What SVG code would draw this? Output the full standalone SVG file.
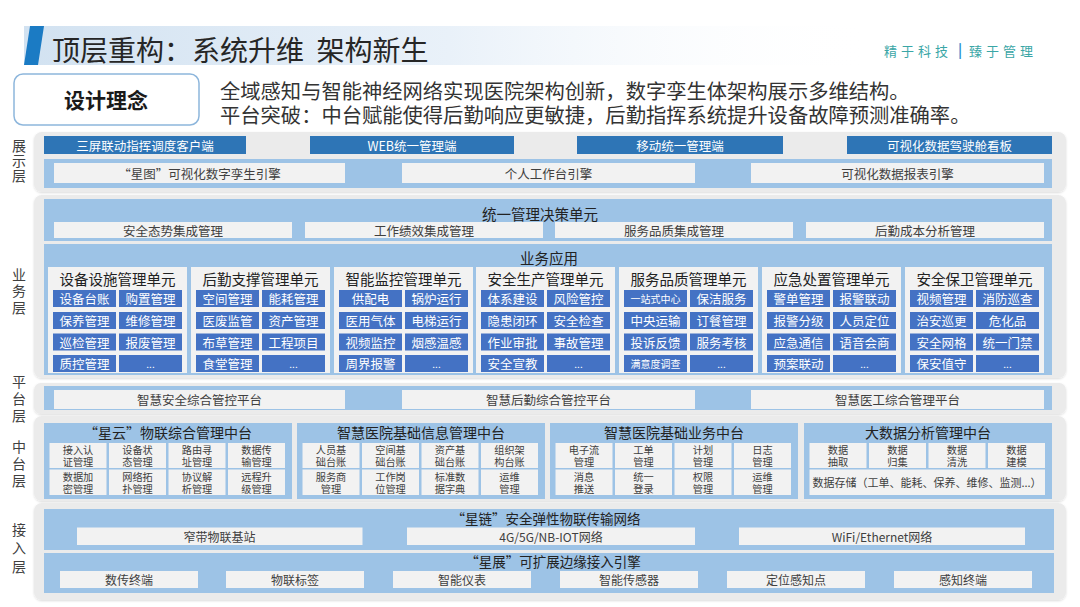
<svg xmlns="http://www.w3.org/2000/svg" width="1080" height="607" viewBox="0 0 1080 607">
<defs>
<linearGradient id="titleGrad" x1="0" x2="1" y1="0" y2="0">
<stop offset="0" stop-color="#d2e2f1"/>
<stop offset="0.5" stop-color="#e9f1f9"/>
<stop offset="1" stop-color="#ffffff" stop-opacity="0"/>
</linearGradient>
<linearGradient id="lineGrad" x1="0" x2="1" y1="0" y2="0">
<stop offset="0" stop-color="#d4e3f1" stop-opacity="0"/>
<stop offset="0.4" stop-color="#d4e3f1"/>
<stop offset="1" stop-color="#d4e3f1"/>
</linearGradient>
<filter id="sh" x="-2%" y="-5%" width="104%" height="115%">
<feDropShadow dx="0" dy="1" stdDeviation="1.2" flood-color="#000" flood-opacity="0.14"/>
</filter>
</defs>
<style>
text{font-family:"Noto Sans CJK SC","Noto Sans",sans-serif;dominant-baseline:central}
.c{fill:#ebebeb;filter:url(#sh)}
.b{fill:#9dc3e6}
.w{fill:#f2f2f2}
.d{fill:#2e75b6}
.k{fill:#4472c4}
.p{fill:#f2f2f2}
.lb{font-size:14px;fill:#404040;text-anchor:middle;writing-mode:vertical-rl}
.t{font-size:12.5px;fill:#404040;text-anchor:middle}
.ta{font-size:12px;fill:#404040;text-anchor:middle}
.tw{font-size:12.5px;fill:#ffffff;text-anchor:middle}
.ts{font-size:10px;fill:#ffffff;text-anchor:middle}
.h{font-size:14.5px;fill:#222222;text-anchor:middle}
.hm{font-size:14px;fill:#222222;text-anchor:middle}
.ha{font-size:13.5px;fill:#222222;text-anchor:middle}
.ct{font-size:10.2px;fill:#404040;text-anchor:middle}
</style>

<g id="header">
<rect x="24" y="26" width="850" height="39" fill="url(#titleGrad)"/>
<line x1="400" y1="51" x2="856" y2="51" stroke="url(#lineGrad)" stroke-width="1.5"/>
<polygon points="30,26 44,26 38,65 24,65" fill="#1b7bc4"/>
<text x="52" y="48.5" style="font-size:28px;fill:#262626">顶层重构：系统升维&#160;&#160;架构新生</text>
<text x="884" y="50" style="font-size:13px;fill:#3aa6a6;letter-spacing:4px">精于科技</text>
<text x="960" y="49" style="font-size:14px;fill:#2a8fd0;font-weight:bold;text-anchor:middle">|</text>
<text x="969" y="50" style="font-size:13px;fill:#3aa6a6;letter-spacing:4px">臻于管理</text>
</g>

<g id="concept">
<rect x="14" y="74" width="185" height="51" rx="9" fill="#ffffff" stroke="#8db6dc" stroke-width="1.5"/>
<text x="106" y="99" style="font-size:21px;font-weight:bold;fill:#1a1a1a;text-anchor:middle">设计理念</text>
<text style="font-size:20.3px;fill:#333333"><tspan x="220" y="90">全域感知与智能神经网络实现医院架构创新，数字孪生体架构展示多维结构。</tspan><tspan x="220" y="114">平台突破：中台赋能使得后勤响应更敏捷，后勤指挥系统提升设备故障预测准确率。</tspan></text>
</g>

<g id="labels">
<text class="lb" x="19" y="161" style="letter-spacing:1px">展示层</text>
<text class="lb" x="19" y="292" style="letter-spacing:2.5px">业务层</text>
<text class="lb" x="19" y="400" style="letter-spacing:2.7px">平台层</text>
<text class="lb" x="19" y="465" style="letter-spacing:3px">中台层</text>
<text class="lb" x="19" y="550" style="letter-spacing:4.5px">接入层</text>
</g>

<g id="display-layer">
<rect class="c" x="34" y="132" width="1032" height="60" rx="8"/>
<rect class="d" x="44" y="136" width="202" height="18"/><text class="tw" x="145" y="145">三屏联动指挥调度客户端</text>
<rect class="d" x="310" y="136" width="204" height="18"/><text class="tw" x="412" y="145">WEB统一管理端</text>
<rect class="d" x="577" y="136" width="206" height="18"/><text class="tw" x="680" y="145">移动统一管理端</text>
<rect class="d" x="847" y="136" width="205" height="18"/><text class="tw" x="949.5" y="145">可视化数据驾驶舱看板</text>
<rect class="b" x="44" y="159" width="1008" height="29"/>
<rect class="w" x="54" y="163" width="291" height="20"/><text class="t" x="199.5" y="173">“星图”可视化数字孪生引擎</text>
<rect class="w" x="402" y="163" width="293" height="20"/><text class="t" x="548.5" y="173">个人工作台引擎</text>
<rect class="w" x="751" y="163" width="293" height="20"/><text class="t" x="897.5" y="173">可视化数据报表引擎</text>
</g>

<g id="business-layer">
<rect class="c" x="34" y="195" width="1032" height="183" rx="8"/>
<rect class="b" x="44" y="199" width="1008" height="42"/>
<text class="h" x="540" y="213">统一管理决策单元</text>
<rect class="w" x="54" y="222" width="238" height="16"/><text class="t" x="173" y="230">安全态势集成管理</text>
<rect class="w" x="305" y="222" width="238" height="16"/><text class="t" x="424" y="230">工作绩效集成管理</text>
<rect class="w" x="555" y="222" width="238" height="16"/><text class="t" x="674" y="230">服务品质集成管理</text>
<rect class="w" x="806" y="222" width="238" height="16"/><text class="t" x="925" y="230">后勤成本分析管理</text>
<rect class="b" x="44" y="244" width="1008" height="131"/>
<text class="h" x="549" y="257">业务应用</text>
</g>

<g id="unit-1" transform="translate(48,0)">
<rect class="p" x="0" y="267" width="139" height="106"/>
<text class="h" x="69.5" y="278.9">设备设施管理单元</text>
<rect class="k" x="5" y="290" width="63" height="17"/><text class="tw" x="36.5" y="298.5">设备台账</text>
<rect class="k" x="71" y="290" width="63" height="17"/><text class="tw" x="102.5" y="298.5">购置管理</text>
<rect class="k" x="5" y="312" width="63" height="17"/><text class="tw" x="36.5" y="320.5">保养管理</text>
<rect class="k" x="71" y="312" width="63" height="17"/><text class="tw" x="102.5" y="320.5">维修管理</text>
<rect class="k" x="5" y="333.5" width="63" height="17"/><text class="tw" x="36.5" y="342">巡检管理</text>
<rect class="k" x="71" y="333.5" width="63" height="17"/><text class="tw" x="102.5" y="342">报废管理</text>
<rect class="k" x="5" y="355" width="63" height="17"/><text class="tw" x="36.5" y="363.5">质控管理</text>
<rect class="k" x="71" y="355" width="63" height="17"/><text class="ts" x="102.5" y="363.5">...</text>
</g>

<g id="unit-2" transform="translate(191,0)">
<rect class="p" x="0" y="267" width="139" height="106"/>
<text class="h" x="69.5" y="278.9">后勤支撑管理单元</text>
<rect class="k" x="5" y="290" width="63" height="17"/><text class="tw" x="36.5" y="298.5">空间管理</text>
<rect class="k" x="71" y="290" width="63" height="17"/><text class="tw" x="102.5" y="298.5">能耗管理</text>
<rect class="k" x="5" y="312" width="63" height="17"/><text class="tw" x="36.5" y="320.5">医废监管</text>
<rect class="k" x="71" y="312" width="63" height="17"/><text class="tw" x="102.5" y="320.5">资产管理</text>
<rect class="k" x="5" y="333.5" width="63" height="17"/><text class="tw" x="36.5" y="342">布草管理</text>
<rect class="k" x="71" y="333.5" width="63" height="17"/><text class="tw" x="102.5" y="342">工程项目</text>
<rect class="k" x="5" y="355" width="63" height="17"/><text class="tw" x="36.5" y="363.5">食堂管理</text>
<rect class="k" x="71" y="355" width="63" height="17"/><text class="ts" x="102.5" y="363.5">...</text>
</g>

<g id="unit-3" transform="translate(334,0)">
<rect class="p" x="0" y="267" width="139" height="106"/>
<text class="h" x="69.5" y="278.9">智能监控管理单元</text>
<rect class="k" x="5" y="290" width="63" height="17"/><text class="tw" x="36.5" y="298.5">供配电</text>
<rect class="k" x="71" y="290" width="63" height="17"/><text class="tw" x="102.5" y="298.5">锅炉运行</text>
<rect class="k" x="5" y="312" width="63" height="17"/><text class="tw" x="36.5" y="320.5">医用气体</text>
<rect class="k" x="71" y="312" width="63" height="17"/><text class="tw" x="102.5" y="320.5">电梯运行</text>
<rect class="k" x="5" y="333.5" width="63" height="17"/><text class="tw" x="36.5" y="342">视频监控</text>
<rect class="k" x="71" y="333.5" width="63" height="17"/><text class="tw" x="102.5" y="342">烟感温感</text>
<rect class="k" x="5" y="355" width="63" height="17"/><text class="tw" x="36.5" y="363.5">周界报警</text>
<rect class="k" x="71" y="355" width="63" height="17"/><text class="ts" x="102.5" y="363.5">...</text>
</g>

<g id="unit-4" transform="translate(476,0)">
<rect class="p" x="0" y="267" width="139" height="106"/>
<text class="h" x="69.5" y="278.9">安全生产管理单元</text>
<rect class="k" x="5" y="290" width="63" height="17"/><text class="tw" x="36.5" y="298.5">体系建设</text>
<rect class="k" x="71" y="290" width="63" height="17"/><text class="tw" x="102.5" y="298.5">风险管控</text>
<rect class="k" x="5" y="312" width="63" height="17"/><text class="tw" x="36.5" y="320.5">隐患闭环</text>
<rect class="k" x="71" y="312" width="63" height="17"/><text class="tw" x="102.5" y="320.5">安全检查</text>
<rect class="k" x="5" y="333.5" width="63" height="17"/><text class="tw" x="36.5" y="342">作业审批</text>
<rect class="k" x="71" y="333.5" width="63" height="17"/><text class="tw" x="102.5" y="342">事故管理</text>
<rect class="k" x="5" y="355" width="63" height="17"/><text class="tw" x="36.5" y="363.5">安全宣教</text>
<rect class="k" x="71" y="355" width="63" height="17"/><text class="ts" x="102.5" y="363.5">...</text>
</g>

<g id="unit-5" transform="translate(619,0)">
<rect class="p" x="0" y="267" width="139" height="106"/>
<text class="h" x="69.5" y="278.9">服务品质管理单元</text>
<rect class="k" x="5" y="290" width="63" height="17"/><text class="ts" x="36.5" y="298.5">一站式中心</text>
<rect class="k" x="71" y="290" width="63" height="17"/><text class="tw" x="102.5" y="298.5">保洁服务</text>
<rect class="k" x="5" y="312" width="63" height="17"/><text class="tw" x="36.5" y="320.5">中央运输</text>
<rect class="k" x="71" y="312" width="63" height="17"/><text class="tw" x="102.5" y="320.5">订餐管理</text>
<rect class="k" x="5" y="333.5" width="63" height="17"/><text class="tw" x="36.5" y="342">投诉反馈</text>
<rect class="k" x="71" y="333.5" width="63" height="17"/><text class="tw" x="102.5" y="342">服务考核</text>
<rect class="k" x="5" y="355" width="63" height="17"/><text class="ts" x="36.5" y="363.5">满意度调查</text>
<rect class="k" x="71" y="355" width="63" height="17"/><text class="ts" x="102.5" y="363.5">...</text>
</g>

<g id="unit-6" transform="translate(762,0)">
<rect class="p" x="0" y="267" width="139" height="106"/>
<text class="h" x="69.5" y="278.9">应急处置管理单元</text>
<rect class="k" x="5" y="290" width="63" height="17"/><text class="tw" x="36.5" y="298.5">警单管理</text>
<rect class="k" x="71" y="290" width="63" height="17"/><text class="tw" x="102.5" y="298.5">报警联动</text>
<rect class="k" x="5" y="312" width="63" height="17"/><text class="tw" x="36.5" y="320.5">报警分级</text>
<rect class="k" x="71" y="312" width="63" height="17"/><text class="tw" x="102.5" y="320.5">人员定位</text>
<rect class="k" x="5" y="333.5" width="63" height="17"/><text class="tw" x="36.5" y="342">应急通信</text>
<rect class="k" x="71" y="333.5" width="63" height="17"/><text class="tw" x="102.5" y="342">语音会商</text>
<rect class="k" x="5" y="355" width="63" height="17"/><text class="tw" x="36.5" y="363.5">预案联动</text>
<rect class="k" x="71" y="355" width="63" height="17"/><text class="ts" x="102.5" y="363.5">...</text>
</g>

<g id="unit-7" transform="translate(905,0)">
<rect class="p" x="0" y="267" width="139" height="106"/>
<text class="h" x="69.5" y="278.9">安全保卫管理单元</text>
<rect class="k" x="5" y="290" width="63" height="17"/><text class="tw" x="36.5" y="298.5">视频管理</text>
<rect class="k" x="71" y="290" width="63" height="17"/><text class="tw" x="102.5" y="298.5">消防巡查</text>
<rect class="k" x="5" y="312" width="63" height="17"/><text class="tw" x="36.5" y="320.5">治安巡更</text>
<rect class="k" x="71" y="312" width="63" height="17"/><text class="tw" x="102.5" y="320.5">危化品</text>
<rect class="k" x="5" y="333.5" width="63" height="17"/><text class="tw" x="36.5" y="342">安全网格</text>
<rect class="k" x="71" y="333.5" width="63" height="17"/><text class="tw" x="102.5" y="342">统一门禁</text>
<rect class="k" x="5" y="355" width="63" height="17"/><text class="tw" x="36.5" y="363.5">保安值守</text>
<rect class="k" x="71" y="355" width="63" height="17"/><text class="ts" x="102.5" y="363.5">...</text>
</g>

<g id="platform-layer">
<rect class="c" x="34" y="383" width="1032" height="31" rx="7"/>
<rect class="b" x="44" y="386" width="1008" height="24"/>
<rect class="w" x="54" y="390" width="291" height="19"/><text class="t" x="199.5" y="399.5">智慧安全综合管控平台</text>
<rect class="w" x="402" y="390" width="293" height="19"/><text class="t" x="548.5" y="399.5">智慧后勤综合管控平台</text>
<rect class="w" x="751" y="390" width="293" height="19"/><text class="t" x="897.5" y="399.5">智慧医工综合管理平台</text>
</g>

<g id="middle-layer">
<rect class="c" x="34" y="416" width="1032" height="85" rx="8"/>
</g>

<g id="mid-1" transform="translate(44,0)">
<rect class="b" x="0" y="423" width="248" height="76"/>
<text class="hm" x="124" y="431.5">“星云”物联综合管理中台</text>
<rect class="w" x="5.5" y="443" width="57" height="25"/><text class="ct"><tspan x="34" y="449.3">接入认</tspan><tspan x="34" y="461.3">证管理</tspan></text>
<rect class="w" x="65" y="443" width="57" height="25"/><text class="ct"><tspan x="93.5" y="449.3">设备状</tspan><tspan x="93.5" y="461.3">态管理</tspan></text>
<rect class="w" x="124.5" y="443" width="57" height="25"/><text class="ct"><tspan x="153" y="449.3">路由寻</tspan><tspan x="153" y="461.3">址管理</tspan></text>
<rect class="w" x="184" y="443" width="57" height="25"/><text class="ct"><tspan x="212.5" y="449.3">数据传</tspan><tspan x="212.5" y="461.3">输管理</tspan></text>
<rect class="w" x="5.5" y="469.5" width="57" height="25.5"/><text class="ct"><tspan x="34" y="476.2">数据加</tspan><tspan x="34" y="488.2">密管理</tspan></text>
<rect class="w" x="65" y="469.5" width="57" height="25.5"/><text class="ct"><tspan x="93.5" y="476.2">网络拓</tspan><tspan x="93.5" y="488.2">扑管理</tspan></text>
<rect class="w" x="124.5" y="469.5" width="57" height="25.5"/><text class="ct"><tspan x="153" y="476.2">协议解</tspan><tspan x="153" y="488.2">析管理</tspan></text>
<rect class="w" x="184" y="469.5" width="57" height="25.5"/><text class="ct"><tspan x="212.5" y="476.2">远程升</tspan><tspan x="212.5" y="488.2">级管理</tspan></text>
</g>

<g id="mid-2" transform="translate(297,0)">
<rect class="b" x="0" y="423" width="248" height="76"/>
<text class="hm" x="124" y="431.5">智慧医院基础信息管理中台</text>
<rect class="w" x="5.5" y="443" width="57" height="25"/><text class="ct"><tspan x="34" y="449.3">人员基</tspan><tspan x="34" y="461.3">础台账</tspan></text>
<rect class="w" x="65" y="443" width="57" height="25"/><text class="ct"><tspan x="93.5" y="449.3">空间基</tspan><tspan x="93.5" y="461.3">础台账</tspan></text>
<rect class="w" x="124.5" y="443" width="57" height="25"/><text class="ct"><tspan x="153" y="449.3">资产基</tspan><tspan x="153" y="461.3">础台账</tspan></text>
<rect class="w" x="184" y="443" width="57" height="25"/><text class="ct"><tspan x="212.5" y="449.3">组织架</tspan><tspan x="212.5" y="461.3">构台账</tspan></text>
<rect class="w" x="5.5" y="469.5" width="57" height="25.5"/><text class="ct"><tspan x="34" y="476.2">服务商</tspan><tspan x="34" y="488.2">管理</tspan></text>
<rect class="w" x="65" y="469.5" width="57" height="25.5"/><text class="ct"><tspan x="93.5" y="476.2">工作岗</tspan><tspan x="93.5" y="488.2">位管理</tspan></text>
<rect class="w" x="124.5" y="469.5" width="57" height="25.5"/><text class="ct"><tspan x="153" y="476.2">标准数</tspan><tspan x="153" y="488.2">据字典</tspan></text>
<rect class="w" x="184" y="469.5" width="57" height="25.5"/><text class="ct"><tspan x="212.5" y="476.2">运维</tspan><tspan x="212.5" y="488.2">管理</tspan></text>
</g>

<g id="mid-3" transform="translate(550,0)">
<rect class="b" x="0" y="423" width="248" height="76"/>
<text class="hm" x="124" y="431.5">智慧医院基础业务中台</text>
<rect class="w" x="5.5" y="443" width="57" height="25"/><text class="ct"><tspan x="34" y="449.3">电子流</tspan><tspan x="34" y="461.3">管理</tspan></text>
<rect class="w" x="65" y="443" width="57" height="25"/><text class="ct"><tspan x="93.5" y="449.3">工单</tspan><tspan x="93.5" y="461.3">管理</tspan></text>
<rect class="w" x="124.5" y="443" width="57" height="25"/><text class="ct"><tspan x="153" y="449.3">计划</tspan><tspan x="153" y="461.3">管理</tspan></text>
<rect class="w" x="184" y="443" width="57" height="25"/><text class="ct"><tspan x="212.5" y="449.3">日志</tspan><tspan x="212.5" y="461.3">管理</tspan></text>
<rect class="w" x="5.5" y="469.5" width="57" height="25.5"/><text class="ct"><tspan x="34" y="476.2">消息</tspan><tspan x="34" y="488.2">推送</tspan></text>
<rect class="w" x="65" y="469.5" width="57" height="25.5"/><text class="ct"><tspan x="93.5" y="476.2">统一</tspan><tspan x="93.5" y="488.2">登录</tspan></text>
<rect class="w" x="124.5" y="469.5" width="57" height="25.5"/><text class="ct"><tspan x="153" y="476.2">权限</tspan><tspan x="153" y="488.2">管理</tspan></text>
<rect class="w" x="184" y="469.5" width="57" height="25.5"/><text class="ct"><tspan x="212.5" y="476.2">运维</tspan><tspan x="212.5" y="488.2">管理</tspan></text>
</g>

<g id="mid-4" transform="translate(804,0)">
<rect class="b" x="0" y="423" width="248" height="76"/>
<text class="hm" x="124" y="431.5">大数据分析管理中台</text>
<rect class="w" x="5.5" y="443" width="57" height="25"/><text class="ct"><tspan x="34" y="449.3">数据</tspan><tspan x="34" y="461.3">抽取</tspan></text>
<rect class="w" x="65" y="443" width="57" height="25"/><text class="ct"><tspan x="93.5" y="449.3">数据</tspan><tspan x="93.5" y="461.3">归集</tspan></text>
<rect class="w" x="124.5" y="443" width="57" height="25"/><text class="ct"><tspan x="153" y="449.3">数据</tspan><tspan x="153" y="461.3">清洗</tspan></text>
<rect class="w" x="184" y="443" width="57" height="25"/><text class="ct"><tspan x="212.5" y="449.3">数据</tspan><tspan x="212.5" y="461.3">建模</tspan></text>
<rect class="w" x="5.5" y="469.5" width="235.5" height="25.5"/><text class="ct" x="123" y="482.2" style="font-size:11px">数据存储（工单、能耗、保养、维修、监测...）</text>
</g>

<g id="access-layer">
<rect class="c" x="34" y="503" width="1032" height="97" rx="8"/>
<rect class="b" x="44" y="509" width="1010" height="41"/>
<text class="ha" x="546" y="517.5">“星链”安全弹性物联传输网络</text>
<rect class="w" x="77" y="527.5" width="285.5" height="17.5"/><text class="ta" x="219.5" y="536.4">窄带物联基站</text>
<rect class="w" x="407" y="527.5" width="288" height="17.5"/><text class="ta" x="551" y="536.4">4G/5G/NB-IOT网络</text>
<rect class="w" x="739" y="527.5" width="286" height="17.5"/><text class="ta" x="882" y="536.4">WiFi/Ethernet网络</text>
<rect class="b" x="44" y="553" width="1010" height="40"/>
<text class="ha" x="553" y="561">“星展”可扩展边缘接入引擎</text>
<rect class="w" x="60" y="571" width="138" height="17"/><text class="ta" x="129" y="579.8">数传终端</text>
<rect class="w" x="226" y="571" width="138" height="17"/><text class="ta" x="295" y="579.8">物联标签</text>
<rect class="w" x="393" y="571" width="138" height="17"/><text class="ta" x="462" y="579.8">智能仪表</text>
<rect class="w" x="560" y="571" width="138" height="17"/><text class="ta" x="629" y="579.8">智能传感器</text>
<rect class="w" x="727" y="571" width="138" height="17"/><text class="ta" x="796" y="579.8">定位感知点</text>
<rect class="w" x="894" y="571" width="138" height="17"/><text class="ta" x="963" y="579.8">感知终端</text>
</g>

<g id="connectors"/>
</svg>
